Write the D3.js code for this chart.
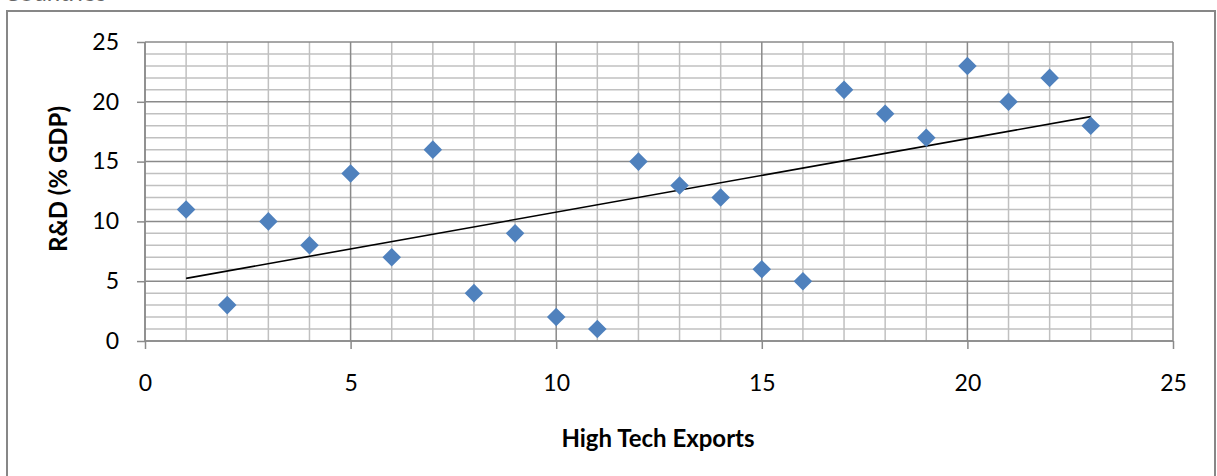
<!DOCTYPE html>
<html><head><meta charset="utf-8">
<script src="https://cdn.jsdelivr.net/npm/d3@7/dist/d3.min.js"></script>
<style>
html,body{margin:0;padding:0;background:#fff;}
svg{display:block;font-family:Lato,"Open Sans",sans-serif;}
</style></head><body>
<svg id="c" width="1217" height="476"></svg>
<script>
const xValues = [1,2,3,4,5,6,7,8,9,10,11,12,13,14,15,16,17,18,19,20,21,22,23];
const yValues = [11,3,10,8,14,7,16,4,9,2,1,15,13,12,6,5,21,19,17,23,20,22,18];
const tickValues = [0,5,10,15,20,25];
const xTitle = "High Tech Exports";
const yTitle = "R&D (% GDP)";
const topText = "Countries";

const svg = d3.select("#c");
const L = 145, R = 1173, T = 42, B = 341;
const x = d3.scaleLinear().domain([0,25]).range([L,R]);
const y = d3.scaleLinear().domain([0,25]).range([B,T]);

// partially visible title text at top (cut off in the reference too)
svg.append("text").attr("x",4).attr("y",0.5).attr("font-size",24).attr("fill","#666").text(topText);

// outer border
svg.append("rect").attr("x",7).attr("y",11).attr("width",1208).attr("height",480)
  .attr("fill","none").attr("stroke","#878787").attr("stroke-width",2);

const minor = d3.range(0,26);
const g = svg.append("g");
g.selectAll(".hy").data(minor.filter(v=>v%5)).join("line")
  .attr("x1",L).attr("x2",R).attr("y1",d=>y(d)).attr("y2",d=>y(d))
  .attr("stroke","#c0c0c0").attr("stroke-width",1.5);
g.selectAll(".vx").data(minor.filter(v=>v%5)).join("line")
  .attr("y1",T).attr("y2",B).attr("x1",d=>x(d)).attr("x2",d=>x(d))
  .attr("stroke","#c0c0c0").attr("stroke-width",1.5);
g.selectAll(".hY").data(tickValues).join("line")
  .attr("x1",L).attr("x2",R).attr("y1",d=>y(d)).attr("y2",d=>y(d))
  .attr("stroke","#8a8a8a").attr("stroke-width",1.5);
g.selectAll(".vX").data(tickValues).join("line")
  .attr("y1",T).attr("y2",B).attr("x1",d=>x(d)).attr("x2",d=>x(d))
  .attr("stroke","#8a8a8a").attr("stroke-width",1.5);

// axes
const yAxis = d3.axisLeft(y).tickValues(tickValues).tickSize(8).tickPadding(18);
const xAxis = d3.axisBottom(x).tickValues(tickValues).tickSize(8).tickPadding(26);
const ya = svg.append("g").attr("transform",`translate(${L},0)`).call(yAxis);
const xa = svg.append("g").attr("transform",`translate(0,${B})`).call(xAxis);
[ya,xa].forEach(a=>{
  a.select(".domain").attr("stroke","#8a8a8a").attr("stroke-width",1.5);
  a.selectAll(".tick line").attr("stroke","#8a8a8a").attr("stroke-width",1.5);
  a.selectAll("text").attr("font-size",23).attr("fill","#000").attr("font-family","Lato, 'Open Sans', sans-serif");
});
xa.select(".domain").attr("d",`M${L},0H${R}`);
ya.select(".domain").attr("d",`M0,${T}V${B}`);

// trendline (least-squares fit of the data)
const mx = d3.mean(xValues), my = d3.mean(yValues);
const slope = d3.sum(xValues.map((v,i)=>(v-mx)*(yValues[i]-my))) / d3.sum(xValues.map(v=>(v-mx)*(v-mx)));
const icpt = my - slope*mx;
const x0 = d3.min(xValues), x1 = d3.max(xValues);
svg.append("line").attr("x1",x(x0)).attr("y1",y(icpt+slope*x0))
  .attr("x2",x(x1)).attr("y2",y(icpt+slope*x1))
  .attr("stroke","#000").attr("stroke-width",1.6);

// points
const sym = d3.symbol().type(d3.symbolDiamond2).size(220);
svg.selectAll(".pt").data(xValues.map((v,i)=>[v,yValues[i]])).join("path")
  .attr("d",sym).attr("transform",d=>`translate(${x(d[0])},${y(d[1])})`)
  .attr("fill","#4f81bd");

// titles
svg.append("text").attr("x",658).attr("y",447).attr("text-anchor","middle")
  .attr("font-size",24).attr("font-weight","bold").text(xTitle);
svg.append("text").attr("transform",`translate(67,179) rotate(-90)`).attr("text-anchor","middle")
  .attr("font-size",24).attr("font-weight","bold").text(yTitle);
</script>
</body></html>
